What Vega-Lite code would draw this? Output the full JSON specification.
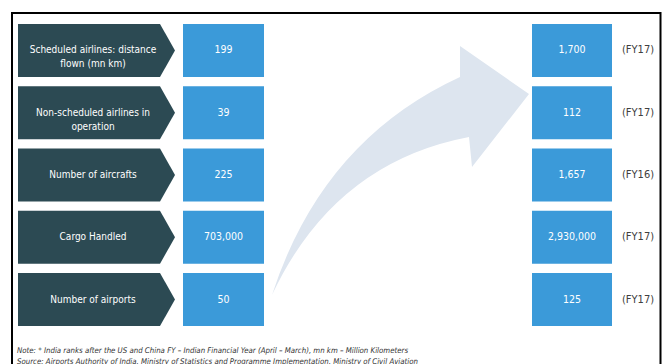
{
  "$schema": "https://vega.github.io/schema/vega-lite/v6.json",
  "width": 663,
  "height": 364,
  "autosize": {"type": "none"},
  "padding": 0,
  "background": "white",
  "config": {
    "view": {"stroke": null},
    "text": {"font": "Liberation Sans Narrow, Arial Narrow, DejaVu Sans Condensed, Liberation Sans, sans-serif"}
  },
  "datasets": {
    "rows": [
      {"label": "Scheduled airlines: distance\nflown (mn km)", "before": 199, "after": 1700, "year": "(FY17)"},
      {"label": "Non-scheduled airlines in\noperation", "before": 39, "after": 112, "year": "(FY17)"},
      {"label": "Number of aircrafts", "before": 225, "after": 1657, "year": "(FY16)"},
      {"label": "Cargo Handled", "before": 703000, "after": 2930000, "year": "(FY17)"},
      {"label": "Number of airports", "before": 50, "after": 125, "year": "(FY17)"}
    ],
    "deco": [{"item": "frame"}]
  },
  "resolve": {"scale": {"y": "independent"}},
  "layer": [
    {
      "data": {"name": "deco"},
      "layer": [
        {
          "mark": {"type": "point", "filled": true, "opacity": 1, "fill": "#dde5ef", "strokeWidth": 0, "size": 40000,
            "shape": "M-1.28,1.25Q-0.78,-0.295,0.6,-0.93L0.6,-1.24L1.29,-0.76L0.72,-0.03L0.69,-0.33Q-0.66,-0.073,-1.28,1.25Z"},
          "encoding": {
            "x": {"datum": 400, "type": "quantitative", "axis": null, "scale": {"domain": [0, 663], "range": [0, 663], "nice": false, "zero": false}},
            "y": {"datum": 170, "type": "quantitative", "axis": null, "scale": {"domain": [0, 364], "range": [0, 364], "nice": false, "zero": false}}
          }
        },
        {
          "mark": {"type": "rect", "fillOpacity": 0, "stroke": "#000000", "strokeWidth": 2},
          "encoding": {
            "x": {"datum": 12, "type": "quantitative", "axis": null, "scale": {"domain": [0, 663], "range": [0, 663], "nice": false, "zero": false}},
            "x2": {"datum": 660.5},
            "y": {"datum": 13, "type": "quantitative", "axis": null, "scale": {"domain": [0, 364], "range": [0, 364], "nice": false, "zero": false}},
            "y2": {"datum": 400}
          }
        },
        {
          "mark": {"type": "text", "align": "left", "baseline": "middle", "fontSize": 7.8, "fontStyle": "italic", "color": "#333333", "lineHeight": 10.5,
            "text": ["Note: * India ranks after the US and China FY – Indian Financial Year (April – March), mn km – Million Kilometers", "Source: Airports Authority of India, Ministry of Statistics and Programme Implementation, Ministry of Civil Aviation"]},
          "encoding": {
            "x": {"datum": 17, "type": "quantitative", "axis": null, "scale": {"domain": [0, 663], "range": [0, 663], "nice": false, "zero": false}},
            "y": {"datum": 351, "type": "quantitative", "axis": null, "scale": {"domain": [0, 364], "range": [0, 364], "nice": false, "zero": false}}
          }
        }
      ]
    },
    {
      "data": {"name": "rows"},
      "encoding": {
        "y": {"field": "label", "type": "nominal", "sort": null, "axis": null,
          "scale": {"type": "band", "range": [24, 326], "paddingInner": 0.149, "paddingOuter": 0}}
      },
      "layer": [
        {
          "mark": {"type": "point", "filled": true, "opacity": 1, "fill": "#2c4a53", "strokeWidth": 0, "size": 40000,
            "shape": "M-0.785,-0.265L0.635,-0.265L0.785,0L0.635,0.265L-0.785,0.265Z"},
          "encoding": {
            "x": {"datum": 96.5, "type": "quantitative", "axis": null, "scale": {"domain": [0, 663], "range": [0, 663], "nice": false, "zero": false}}
          }
        },
        {
          "mark": {"type": "text", "align": "center", "baseline": "middle", "fontSize": 10, "color": "#ffffff", "lineBreak": "\n", "lineHeight": 14},
          "encoding": {
            "x": {"datum": 93, "type": "quantitative", "axis": null, "scale": {"domain": [0, 663], "range": [0, 663], "nice": false, "zero": false}},
            "text": {"field": "label", "type": "nominal"}
          }
        },
        {
          "mark": {"type": "rect", "fill": "#3b9ad9"},
          "encoding": {
            "x": {"datum": 183, "type": "quantitative", "axis": null, "scale": {"domain": [0, 663], "range": [0, 663], "nice": false, "zero": false}},
            "x2": {"datum": 264}
          }
        },
        {
          "mark": {"type": "text", "align": "center", "baseline": "middle", "fontSize": 10.5, "color": "#ffffff"},
          "encoding": {
            "x": {"datum": 223.5, "type": "quantitative", "axis": null, "scale": {"domain": [0, 663], "range": [0, 663], "nice": false, "zero": false}},
            "text": {"field": "before", "type": "quantitative", "format": ","}
          }
        },
        {
          "mark": {"type": "rect", "fill": "#3b9ad9"},
          "encoding": {
            "x": {"datum": 532, "type": "quantitative", "axis": null, "scale": {"domain": [0, 663], "range": [0, 663], "nice": false, "zero": false}},
            "x2": {"datum": 612}
          }
        },
        {
          "mark": {"type": "text", "align": "center", "baseline": "middle", "fontSize": 10.5, "color": "#ffffff"},
          "encoding": {
            "x": {"datum": 572, "type": "quantitative", "axis": null, "scale": {"domain": [0, 663], "range": [0, 663], "nice": false, "zero": false}},
            "text": {"field": "after", "type": "quantitative", "format": ","}
          }
        },
        {
          "mark": {"type": "text", "align": "left", "baseline": "middle", "fontSize": 11, "color": "#404040"},
          "encoding": {
            "x": {"datum": 622, "type": "quantitative", "axis": null, "scale": {"domain": [0, 663], "range": [0, 663], "nice": false, "zero": false}},
            "text": {"field": "year", "type": "nominal"}
          }
        }
      ]
    }
  ]
}
